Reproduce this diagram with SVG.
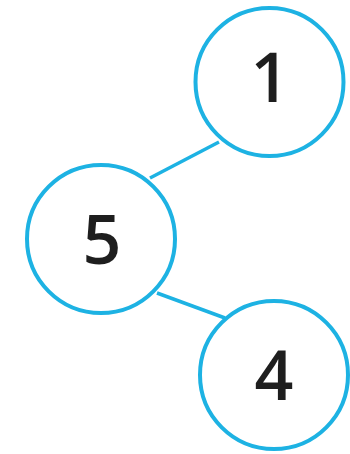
<svg xmlns="http://www.w3.org/2000/svg" width="350" height="454" viewBox="0 0 350 454">
<style>
.node circle{fill:#fff;stroke:#1db2e3;stroke-width:4}
.node text{font-family:"Open Sans","DejaVu Sans",sans-serif;font-weight:600;font-size:68px;fill:#1e1e1e;text-anchor:middle}
.edges line{stroke:#1db2e3;stroke-width:3.5}
</style>
<rect width="350" height="454" fill="#fff"/>
<g id="edges" class="edges">
<line x1="150" y1="178" x2="219" y2="142"/>
<line x1="157" y1="293" x2="225" y2="318"/>
</g>
<g id="node1" class="node"><circle cx="269.5" cy="82" r="74"/><text x="270" y="102">1</text></g>
<g id="node5" class="node"><circle cx="101" cy="239" r="74"/><text x="102" y="264">5</text></g>
<g id="node4" class="node"><circle cx="274" cy="375" r="74"/><text x="274" y="400">4</text></g>
</svg>
